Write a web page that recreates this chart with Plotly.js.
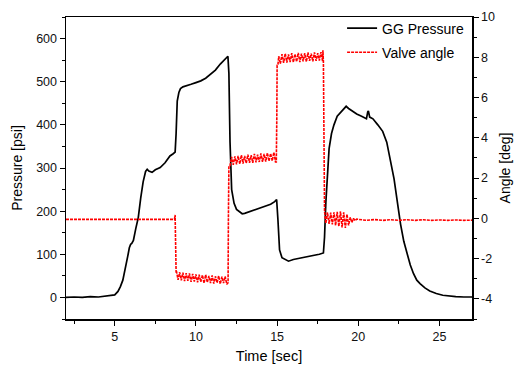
<!DOCTYPE html>
<html>
<head>
<meta charset="utf-8">
<script src="https://cdn.plot.ly/plotly-3.0.1.min.js"></script>
<style>html,body{margin:0;padding:0;background:#fff;}#chart{width:514px;height:372px;}</style>
</head>
<body>
<div id="chart"></div>
<script>
// GG Pressure [psi] vs time [sec]
var pressureTime = [2.0, 2.5, 3.0, 3.5, 4.0, 4.5, 4.8, 5.0, 5.2, 5.35, 5.5, 5.65, 5.8, 5.9, 5.98, 6.05, 6.15, 6.3, 6.45, 6.6, 6.75, 6.9, 7.0, 7.1, 7.3, 7.5, 7.8, 8.1, 8.4, 8.6, 8.72, 8.78, 8.85, 8.95, 9.05, 9.2, 9.4, 9.7, 10.0, 10.3, 10.6, 10.9, 11.2, 11.5, 11.8, 11.97, 12.03, 12.1, 12.2, 12.35, 12.5, 12.7, 12.85, 13.0, 13.3, 13.6, 14.0, 14.3, 14.6, 14.85, 14.97, 15.05, 15.15, 15.3, 15.5, 15.7, 16.0, 16.4, 16.8, 17.2, 17.6, 17.85, 17.92, 18.0, 18.1, 18.2, 18.35, 18.5, 18.7, 18.9, 19.1, 19.25, 19.4, 19.6, 19.9, 20.2, 20.5, 20.58, 20.62, 20.7, 20.9, 21.2, 21.5, 21.75, 22.0, 22.2, 22.4, 22.6, 22.8, 23.0, 23.2, 23.4, 23.6, 23.8, 24.1, 24.4, 24.8, 25.2, 25.6, 26.0, 26.5, 27.0];
var pressureValues = [0, 1, 0, 2, 1, 3, 5, 6, 14, 25, 40, 65, 95, 115, 123, 125, 132, 160, 185, 230, 268, 292, 297, 293, 290, 296, 301, 312, 328, 333, 337, 380, 455, 475, 484, 488, 491, 494, 498, 502, 508, 517, 527, 541, 552, 559, 520, 360, 250, 218, 204, 197, 194, 195, 199, 203, 207, 212, 216, 222, 227, 180, 110, 92, 87, 84, 88, 91, 93, 97, 100, 103, 140, 220, 300, 345, 380, 400, 420, 428, 438, 443, 438, 432, 425, 420, 414, 430, 432, 418, 414, 400, 385, 360, 315, 275, 222, 170, 130, 100, 75, 55, 40, 32, 22, 15, 9, 5, 3, 2, 1, 1];

// Valve angle [deg] vs time [sec]
var angleTime = [2.0, 5.0, 8.68, 8.72, 8.75, 8.78,
  8.8, 8.9, 9.0, 9.1, 9.2, 9.3, 9.4, 9.5, 9.6, 9.7, 9.8, 9.9, 10.0, 10.1, 10.2, 10.3, 10.4, 10.5, 10.6, 10.7, 10.8, 10.9, 11.0, 11.1, 11.2, 11.3, 11.4, 11.5, 11.6, 11.7, 11.8, 11.9,
  11.98, 12.0, 12.03,
  12.1, 12.2, 12.3, 12.4, 12.5, 12.6, 12.7, 12.8, 12.9, 13.0, 13.1, 13.2, 13.3, 13.4, 13.5, 13.6, 13.7, 13.8, 13.9, 14.0, 14.1, 14.2, 14.3, 14.4, 14.5, 14.6, 14.7, 14.8, 14.9,
  14.95, 14.98, 15.0,
  15.05, 15.1, 15.2, 15.3, 15.4, 15.5, 15.6, 15.7, 15.8, 15.9, 16.0, 16.1, 16.2, 16.3, 16.4, 16.5, 16.6, 16.7, 16.8, 16.9, 17.0, 17.1, 17.2, 17.3, 17.4, 17.5, 17.6, 17.7, 17.8, 17.82,
  17.85, 17.88,
  17.92, 18.0, 18.1, 18.2, 18.3, 18.4, 18.5, 18.6, 18.7, 18.8, 18.9, 19.0, 19.1, 19.2, 19.3, 19.4, 19.5, 19.6, 19.7, 19.8, 19.9,
  20.5, 21.0, 21.5, 22.0, 22.5, 23.0, 23.5, 24.0, 24.5, 25.0, 25.5, 26.0, 26.5, 27.0];
var angleValues = [-0.05, -0.04, -0.05, 0.17, -1.5, -2.7,
  -2.62, -3.05, -2.68, -3.08, -2.70, -3.12, -2.72, -3.10, -2.74, -3.16, -2.76, -3.14, -2.78, -3.18, -2.80, -3.15, -2.82, -3.22, -2.80, -3.18, -2.86, -3.22, -2.84, -3.24, -2.88, -3.20, -2.86, -3.26, -2.90, -3.22, -2.88, -3.28,
  -3.2, 0.0, 2.6,
  2.62, 3.05, 2.66, 3.08, 2.68, 3.10, 2.70, 3.14, 2.72, 3.10, 2.74, 3.16, 2.76, 3.14, 2.76, 3.20, 2.78, 3.16, 2.80, 3.22, 2.80, 3.20, 2.82, 3.25, 2.84, 3.22, 2.86, 3.28, 2.80,
  2.8, 5.0, 7.6,
  7.62, 8.05, 7.68, 8.15, 7.72, 8.18, 7.74, 8.14, 7.76, 8.20, 7.75, 8.16, 7.78, 8.22, 7.76, 8.18, 7.80, 8.20, 7.78, 8.24, 7.82, 8.18, 7.80, 8.24, 7.82, 8.20, 7.84, 8.26, 7.80, 8.35,
  7.8, 4.0,
  0.35, -0.25, 0.30, -0.28, 0.28, -0.30, 0.30, -0.35, 0.32, -0.40, 0.35, -0.45, 0.30, -0.48, 0.20, -0.35, 0.05, -0.20, 0.00, -0.12, -0.04,
  -0.10, -0.06, -0.10, -0.07, -0.10, -0.07, -0.10, -0.07, -0.10, -0.08, -0.10, -0.08, -0.10, -0.09];

var seriesNames = ['GG Pressure', 'Valve angle'];
var angleTickVals = [-4, -2, 0, 2, 4, 6, 8, 10];
var angleTickText = ['-4', '-2', '0', '2', '4', '6', '8', '10'];

var FONT = 'Liberation Sans, Arial, sans-serif';

var traces = [
  {
    x: pressureTime, y: pressureValues, name: seriesNames[0],
    type: 'scatter', mode: 'lines', yaxis: 'y', legendgroup: 'a',
    line: {color: '#000000', width: 1.7}
  },
  {
    x: angleTime, y: angleValues, name: seriesNames[1],
    type: 'scatter', mode: 'lines', yaxis: 'y2', legendgroup: 'b',
    line: {color: '#ff0000', width: 1.6, dash: '3px,1px'}
  }
];

var axisCommon = {
  showgrid: false, zeroline: false, showline: true, linecolor: '#000', linewidth: 1.5,
  ticks: 'outside', ticklen: 5, tickwidth: 1, tickcolor: '#000',
  tickfont: {family: FONT, size: 12.5, color: '#111'}
};

var layout = {
  width: 514, height: 372,
  margin: {l: 66, r: 42, t: 12, b: 53},
  paper_bgcolor: '#fff', plot_bgcolor: '#fff',
  font: {family: FONT, color: '#000'},
  showlegend: true,
  legend: {
    x: 0.68, y: 1.015, xanchor: 'left', yanchor: 'top',
    bgcolor: 'rgba(0,0,0,0)', borderwidth: 0,
    font: {family: FONT, size: 14, color: '#000'},
    traceorder: 'grouped', tracegroupgap: 3
  },
  xaxis: Object.assign({}, axisCommon, {
    range: [2, 27], dtick: 5, tick0: 0, mirror: true,
    minor: {dtick: 2.5, ticklen: 3, ticks: 'outside', tickcolor: '#000'},
    title: {text: 'Time [sec]', font: {family: FONT, size: 14.5, color: '#000'}, standoff: 8}
  }),
  yaxis: Object.assign({}, axisCommon, {
    range: [-50, 650], dtick: 100, tick0: 0,
    minor: {dtick: 50, ticklen: 3, ticks: 'outside', tickcolor: '#000'},
    title: {text: 'Pressure [psi]', font: {family: FONT, size: 14, color: '#000'}, standoff: 10}
  }),
  yaxis2: Object.assign({}, axisCommon, {
    overlaying: 'y', side: 'right',
    range: [-5, 10], tickmode: 'array', tickvals: angleTickVals, ticktext: angleTickText,
    minor: {tickmode: 'linear', tick0: 0, dtick: 1, ticklen: 3, ticks: 'outside', tickcolor: '#000'},
    title: {text: 'Angle [deg]', font: {family: FONT, size: 14, color: '#000'}, standoff: 6}
  })
};

Plotly.newPlot('chart', traces, layout, {displayModeBar: false, staticPlot: true});
</script>
</body>
</html>
